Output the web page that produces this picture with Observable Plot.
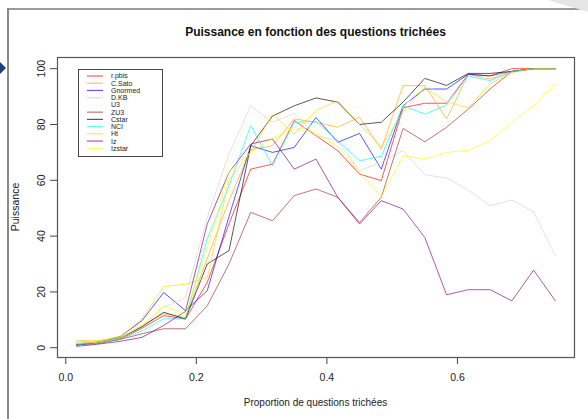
<!DOCTYPE html>
<html>
<head>
<meta charset="utf-8">
<script src="https://cdn.jsdelivr.net/npm/d3@7"></script>
<script src="https://cdn.jsdelivr.net/npm/@observablehq/plot@0.6"></script>
<style>
  html, body { margin: 0; padding: 0; background: #fff; }
  #wrap { position: relative; width: 588px; height: 419px; overflow: hidden; font-family: "Liberation Sans", Arial, sans-serif; }
  #frameL { position: absolute; left: 7px; top: 8px; width: 2px; height: 420px; background: #8a8a8a; }
  #frameT { position: absolute; left: 7px; top: 8px; width: 581px; height: 2px; background: #9a9a9a; }
  #corner { position: absolute; left: 548px; top: 0; width: 0; height: 0; border-top: 12px solid #e6e6e6; border-left: 40px solid transparent; }
  #arrow { position: absolute; left: 0; top: 62px; width: 0; height: 0; border-top: 6px solid transparent; border-bottom: 6px solid transparent; border-left: 6px solid #1f3f7a; }
  #title { position: absolute; left: 57px; width: 517px; top: 25px; text-align: center; font-weight: bold; font-size: 12px; color: #111; }
  #xlabel { position: absolute; left: 57px; width: 517px; top: 397px; text-align: center; font-size: 10px; color: #222; }
  #ylabel { position: absolute; left: 15px; top: 207px; transform: translate(-50%, -50%) rotate(-90deg); font-size: 10.5px; color: #222; white-space: nowrap; }
  #legend { position: absolute; left: 78px; top: 69px; }
  #chart { position: absolute; left: 0; top: 0; }
</style>
</head>
<body>
<div id="wrap">
  <div id="frameT"></div>
  <div id="frameL"></div>
  <div id="corner"></div>
  <div id="arrow"></div>
  <div id="chart"></div>
  <div id="title">Puissance en fonction des questions trichées</div>
  <div id="xlabel">Proportion de questions trichées</div>
  <div id="ylabel">Puissance</div>
  <div id="legend"></div>
</div>
<script>
// ---- data ----
const proportions = d3.range(23).map(k => (2 * k + 1) / 60);
const seriesNames = ["r.pbis", "C.Sato", "Gnormed", "D.KB", "U3", "ZU3", "Cstar", "NCI", "Ht", "Iz", "Izstar"];
const seriesColors = ["red", "orange", "blue", "lightgray", "beige", "brown", "black", "cyan", "gold", "purple", "yellow"];

const rpbis   = [1, 2, 3, 7, 11.5, 10.3, 23.4, 44.4, 64, 65.8, 81.4, 76, 70.6, 62.2, 59.9, 86, 87.6, 87.6, 98, 97.4, 100, 100, 100];
const cSato   = [2.5, 2.5, 3.5, 8, 12.2, 10.8, 32, 52.7, 71, 72.4, 82, 80.8, 79, 82.6, 71.2, 93.9, 93.9, 82, 98, 96.3, 98.7, 100, 100];
const gnormed = [1.5, 2, 4, 9.7, 19.8, 13.3, 20.4, 47, 72.4, 70, 71.8, 82.5, 73.6, 76.8, 64, 86.7, 92.7, 92.7, 98, 97.4, 99, 100, 100];
const dKB     = [1.5, 2, 3.5, 7.5, 14.4, 18, 46.7, 69.4, 86.7, 80.8, 84, 76, 74.2, 63.4, 66.5, 70.6, 62, 60.8, 56.5, 50.9, 52.9, 48.7, 33];
const u3      = [2, 2.5, 3.5, 8, 15, 17, 40, 66, 84.3, 80, 78, 80, 87.4, 86, 80, 86, 95, 88, 96, 97, 99, 100, 100];
const zu3     = [1, 1.5, 3, 5, 6.8, 6.8, 15, 30, 48.5, 45.5, 54.5, 56.9, 53.9, 44.9, 53.9, 78.6, 73.8, 79, 85.5, 92.7, 99, 100, 100];
const cstar   = [1, 2, 3.5, 7.5, 12.7, 10.3, 30, 34.8, 72.4, 83, 86.7, 89.5, 88, 80, 80.8, 88, 96.5, 94, 98.3, 98.3, 99, 100, 100];
const nci     = [1, 2, 3, 6, 10.4, 10.3, 39, 58, 79.6, 65.2, 80.8, 81, 74.2, 67, 68.6, 86.7, 83.7, 87, 97.4, 95.7, 99, 100, 100];
const ht      = [2, 2.5, 4, 10.3, 21.9, 22.8, 25, 60, 70, 83.7, 76.6, 85, 88.5, 80, 72, 84.4, 93.3, 88, 86, 94.5, 98.7, 100, 100];
const iz      = [0.5, 1.3, 2.3, 3.7, 8, 13, 44.3, 62.8, 73, 74.8, 64, 67.6, 53.9, 44.3, 52.7, 49.7, 39.5, 19, 20.8, 20.8, 16.8, 27.8, 16.8];
const izstar  = [1.5, 2, 3.5, 8, 15, 12, 36, 63, 70, 75, 79, 77, 72, 63, 54, 68.8, 67.6, 70, 70.8, 74.2, 80.8, 86.7, 94.7];

const seriesValues = [rpbis, cSato, gnormed, dKB, u3, zu3, cstar, nci, ht, iz, izstar];
const xTicks = [0, 0.2, 0.4, 0.6];
const yTicks = [0, 20, 40, 60, 80, 100];

const rows = [];
seriesNames.forEach((name, i) => {
  seriesValues[i].forEach((v, k) => rows.push({series: name, x: proportions[k], y: v}));
});

const alpha = 0.65;
const chart = Plot.plot({
  width: 588,
  height: 419,
  marginLeft: 57,
  marginRight: 14,
  marginTop: 57,
  marginBottom: 62,
  style: {fontFamily: "'Liberation Sans', Arial, sans-serif", fontSize: "10px", color: "#222", background: "transparent"},
  x: {domain: [-0.0127, 0.7793]},
  y: {domain: [-3.5, 104]},
  color: {domain: seriesNames, range: seriesColors},
  marks: [
    Plot.axisX({ticks: xTicks, tickFormat: d3.format(".1f"), tickSize: 7, tickPadding: 9, fontSize: 10.5,
      label: null, stroke: "#444"}),
    Plot.axisY({ticks: yTicks, tickSize: 7, tickPadding: 6, tickRotate: -90, fontSize: 10.5,
      label: null, stroke: "#444"}),
    Plot.line(rows, {x: "x", y: "y", z: "series", stroke: "series", strokeWidth: 1, strokeOpacity: alpha}),
    Plot.frame({stroke: "#555", strokeWidth: 1.2})
  ]
});
document.getElementById("chart").appendChild(chart);

// legend
const lw = 84, lh = 87;
const leg = d3.select("#legend").append("svg").attr("width", lw + 2).attr("height", lh + 2);
leg.append("rect").attr("x", 0.5).attr("y", 0.5).attr("width", lw).attr("height", lh)
  .attr("fill", "white").attr("stroke", "#444").attr("stroke-width", 1);
seriesNames.forEach((name, i) => {
  const cy = 7 + i * 7.23;
  leg.append("line").attr("x1", 9).attr("x2", 25).attr("y1", cy).attr("y2", cy)
    .attr("stroke", seriesColors[i]).attr("stroke-opacity", alpha).attr("stroke-width", 1.2);
  leg.append("text").attr("x", 33).attr("y", cy).attr("dy", "0.35em")
    .attr("font-size", 7).attr("font-family", "'Liberation Sans', Arial, sans-serif").attr("fill", "#222").text(name);
});
</script>
</body>
</html>
